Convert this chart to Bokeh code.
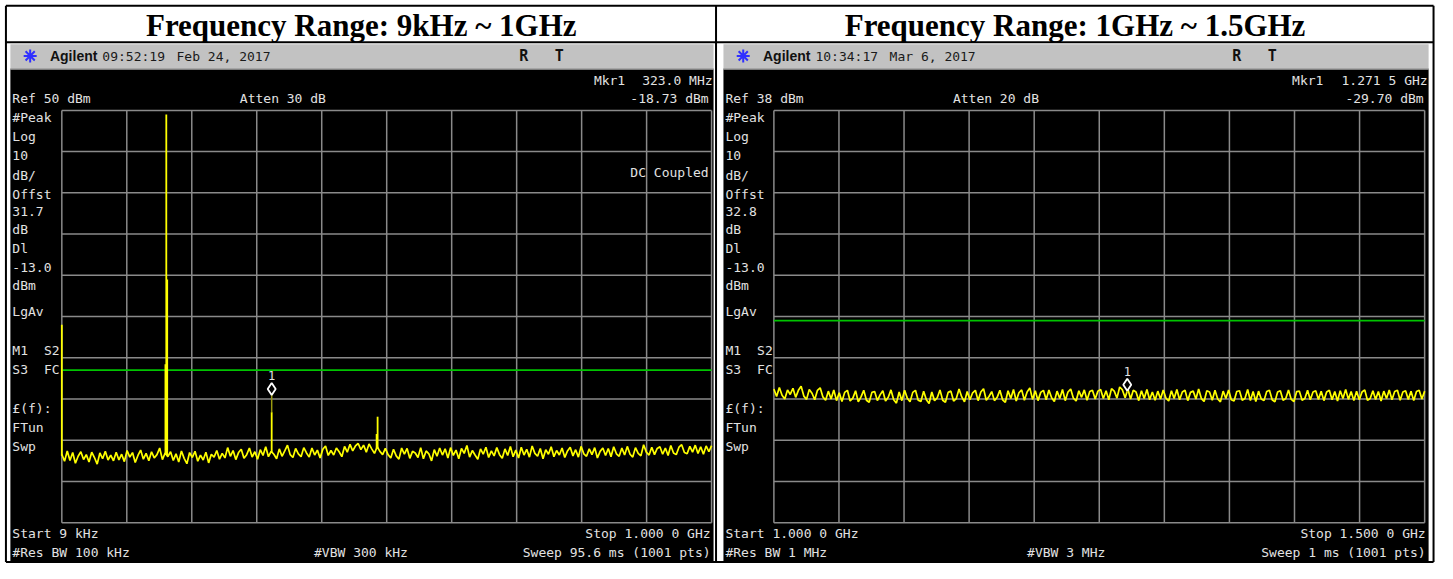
import numpy as np
from bokeh.plotting import figure
from bokeh.models import Range1d
from bokeh.core.properties import value
from bokeh.embed import file_html
from bokeh.resources import INLINE

# ---------------- data ----------------
titles = ["Frequency Range: 9kHz ~ 1GHz", "Frequency Range: 1GHz ~ 1.5GHz"]
start_mhz = [0.009, 1000.0]
stop_mhz = [1000.0, 1500.0]
ref_dbm = [50.0, 38.0]
db_per_div = 10.0
display_line_dbm = [-13.0, -13.0]
marker_mhz = [323.0, 1271.5]
marker_dbm = [-18.73, -29.70]
marker_stem_to = [-23.2, -30.4]

left_noise = [
    -33.4, -35.1, -32.6, -34.9, -33.0, -35.6, -33.9, -32.8, -34.7, -33.5, -35.3, -32.9, -34.2, -35.8, -33.1, -34.5, -32.7, -34.8, -33.6, -35.0,
    -32.9, -34.8, -33.4, -35.2, -32.5, -34.1, -33.0, -35.4, -33.7, -32.4, -34.6, -33.2, -35.0, -32.8, -34.3, -33.5, -31.9, -34.7, -33.1, -34.0,
    -32.8, -34.9, -33.3, -35.3, -32.6, -34.4, -35.7, -33.0, -34.2, -32.7, -35.1, -33.6, -34.8, -32.9, -35.5, -33.4, -34.1, -32.5, -34.6, -33.2,
    -34.3, -31.8, -33.9, -32.5, -34.7, -33.0, -32.2, -34.4, -33.5, -31.9, -34.1, -32.8, -34.6, -32.3, -33.7, -31.6, -34.0, -32.7, -33.4, -34.5,
    -32.1, -33.9, -32.6, -31.2, -33.5, -34.2, -32.0, -33.3, -34.0, -31.8, -33.1, -34.1, -31.9, -33.6, -32.4, -34.3, -32.2, -31.4, -33.7, -32.5,
    -33.6, -31.9, -32.8, -34.0, -31.5, -32.9, -31.0, -32.6, -31.4, -30.8, -32.3, -31.2, -32.9, -30.9, -32.1, -33.2, -31.6, -32.7, -33.5, -32.0,
    -33.5, -34.3, -32.2, -33.8, -34.6, -31.9, -33.4, -32.0, -34.4, -32.7, -33.1, -34.2, -31.8, -34.5, -32.6, -33.3, -35.0, -32.3, -33.9, -31.9,
    -33.6, -32.1, -34.3, -31.8, -33.7, -32.4, -34.5, -32.0, -33.2, -31.3, -34.1, -32.5, -33.6, -34.6, -32.1, -33.4, -31.7, -34.2, -32.6, -33.8,
    -31.8, -33.5, -34.4, -32.1, -33.7, -31.5, -34.0, -32.4, -34.3, -31.7, -33.6, -32.2, -34.1, -31.4, -33.2, -33.9, -32.0, -34.5, -32.3, -33.4,
    -31.6, -34.0, -32.5, -33.6, -31.9, -34.2, -32.6, -31.7, -33.8, -32.3, -34.1, -31.5, -33.3, -33.9, -32.1, -33.5, -31.8, -34.3, -32.7, -31.9,
    -33.7, -32.0, -34.0, -31.6, -33.3, -33.9, -31.9, -33.6, -31.5, -33.4, -34.1, -31.8, -33.2, -33.8, -31.1, -32.9, -33.6, -31.7, -33.5, -32.0,
    -31.6, -33.4, -31.9, -33.7, -31.3, -33.1, -33.5, -31.7, -31.1, -33.0, -33.3, -31.5, -32.9, -31.2, -33.2, -31.6, -33.4, -31.4, -32.8, -31.3,
]

right_noise = [
    -29.6, -31.4, -29.2, -31.1, -32.0, -29.8, -30.9, -29.4, -31.6, -29.9, -28.9, -31.3, -32.1, -29.7, -30.6, -32.2, -29.9, -29.3, -31.5, -32.3,
    -30.1, -32.0, -29.8, -32.4, -30.5, -32.6, -30.4, -29.9, -32.5, -31.8, -30.0, -32.7, -31.5, -29.9, -32.3, -32.8, -30.4, -30.2, -32.4, -31.0,
    -30.0, -32.5, -31.6, -29.8, -32.2, -33.0, -30.3, -32.4, -29.9, -31.8, -32.7, -30.4, -29.9, -32.3, -32.6, -30.1, -32.2, -33.1, -30.3, -32.4,
    -31.7, -29.8, -32.3, -32.8, -30.4, -30.1, -32.5, -31.9, -29.6, -31.5, -32.7, -30.2, -32.2, -30.5, -29.9, -32.4, -30.3, -29.5, -32.3, -31.4,
    -30.2, -32.4, -31.6, -29.9, -32.2, -32.8, -30.0, -31.9, -29.7, -32.5, -30.5, -29.8, -32.3, -30.3, -29.3, -32.1, -30.0, -32.4, -30.4, -29.9,
    -32.2, -29.8, -31.7, -32.6, -30.1, -31.9, -29.7, -32.4, -30.3, -29.6, -31.8, -32.5, -30.0, -31.6, -29.8, -32.3, -30.2, -29.9, -32.0, -30.1,
    -29.7, -31.9, -30.0, -32.2, -29.5, -30.1, -31.8, -29.1, -29.8, -31.7, -29.6, -32.0, -29.9, -30.3, -32.4, -30.0, -31.9, -29.7, -32.2, -30.3,
    -32.3, -30.1, -32.0, -29.8, -31.8, -32.5, -30.0, -31.9, -29.7, -32.2, -30.3, -29.9, -32.4, -30.4, -30.1, -32.0, -29.6, -31.9, -32.6, -30.0,
    -30.3, -32.3, -29.9, -32.0, -32.7, -30.1, -31.9, -29.8, -32.2, -32.5, -30.2, -30.0, -32.3, -31.9, -29.7, -32.4, -30.2, -32.6, -30.1, -32.0,
    -32.4, -30.2, -29.9, -32.2, -32.7, -30.3, -30.0, -32.3, -31.9, -29.8, -32.1, -32.6, -30.2, -30.1, -32.3, -31.9, -29.9, -32.2, -30.3, -30.0,
    -32.1, -30.1, -32.4, -30.3, -29.9, -32.2, -30.2, -32.5, -30.0, -31.9, -29.7, -32.1, -30.2, -32.4, -30.1, -32.2, -30.3, -29.8, -32.3, -31.9,
    -30.0, -32.1, -30.2, -32.5, -30.1, -31.9, -29.8, -32.2, -30.2, -29.9, -32.3, -30.3, -30.0, -32.1, -30.1, -32.4, -30.2, -29.9, -32.0, -30.1,
]

left_spike_mhz = [0.009, 159.5, 160.8, 162.2, 323.0, 484.5, 486.0]
left_spike_top = [-2.0, -11.6, 49.0, 9.0, -23.2, -28.5, -24.3]
left_spike_floor = [-33.8, -33.6, -33.6, -33.6, -33.0, -32.0, -32.0]

header_time = ["09:52:19", "10:34:17"]
header_date = ["Feb 24, 2017", "Mar 6, 2017"]
mkr_label = ["Mkr1", "Mkr1"]
mkr_freq_text = ["323.0 MHz", "1.271 5 GHz"]
mkr_val_text = ["-18.73 dBm", "-29.70 dBm"]
ref_text = ["Ref 50 dBm", "Ref 38 dBm"]
atten_text = ["Atten 30 dB", "Atten 20 dB"]
side_labels = [
    ["#Peak", "Log", "10", "dB/", "Offst", "31.7", "dB", "Dl", "-13.0", "dBm",
     "LgAv", "M1", "S3", "£(f):", "FTun", "Swp"],
    ["#Peak", "Log", "10", "dB/", "Offst", "32.8", "dB", "Dl", "-13.0", "dBm",
     "LgAv", "M1", "S3", "£(f):", "FTun", "Swp"],
]
side_labels_2 = ["S2", "FC"]
coupling_text = ["DC Coupled", ""]
start_text = ["Start 9 kHz", "Start 1.000 0 GHz"]
stop_text = ["Stop 1.000 0 GHz", "Stop 1.500 0 GHz"]
rbw_text = ["#Res BW 100 kHz", "#Res BW 1 MHz"]
vbw_text = ["#VBW 300 kHz", "#VBW 3 MHz"]
sweep_text = ["Sweep 95.6 ms (1001 pts)", "Sweep 1 ms (1001 pts)"]

# ---------------- layout (reference pixel frame) ----------------
VIEW_X = (0.0, 1453.0)
VIEW_Y = (579.0, 0.0)
W, H = 1437, 563
cell_x0 = [5.5, 724.0]
cell_x1 = [724.0, 1449.0]
shot_x0 = [10.0, 731.0]
shot_x1 = [721.0, 1444.0]
grid_x0 = [62.0, 782.0]
grid_x1 = [719.0, 1440.0]
mkr_label_x = [600.0, 1306.0]
GRID_Y0, GRID_Y1 = 113.0, 537.0
side_y = [120, 140, 159, 180, 199, 217, 235, 255, 275, 293, 320, 360, 379, 420, 439, 459]
side2_y = [360, 379]

MONO = value("DejaVu Sans Mono")
TXT = "#e2e2e2"
YELLOW = "#ffff00"

p = figure(width=W, height=H, x_range=Range1d(*VIEW_X), y_range=Range1d(*VIEW_Y),
           output_backend="svg", toolbar_location=None, min_border=0,
           x_axis_location=None, y_axis_location=None)
p.grid.visible = False
p.outline_line_color = None
p.background_fill_color = "white"
p.border_fill_color = "white"

for i in range(2):
    # title
    p.text(x=[(cell_x0[i] + cell_x1[i]) / 2], y=[25.5], text=[titles[i]],
           text_font=value("Liberation Serif"), text_font_style="bold", text_font_size="31px",
           text_align="center", text_baseline="middle", text_color="black")
    # screenshot body
    p.quad(left=[shot_x0[i]], right=[shot_x1[i]], top=[45], bottom=[70],
           fill_color="#c2c2c2", line_color=None)
    p.quad(left=[shot_x0[i]], right=[shot_x1[i]], top=[70], bottom=[577],
           fill_color="black", line_color=None)
    p.segment(x0=[shot_x0[i]], x1=[shot_x1[i]], y0=[70.5], y1=[70.5], line_color="#e8e8e8", line_width=1)
    # header
    p.scatter(x=[shot_x0[i] + 20], y=[57], marker="asterisk", size=13, line_color="#3030ff", line_width=2)
    p.text(x=[shot_x0[i] + 40], y=[57.5], text=["Agilent"], text_font=value("Liberation Sans"),
           text_font_style="bold", text_font_size="14px", text_baseline="middle", text_color="#111111")
    p.text(x=[shot_x0[i] + 93, shot_x0[i] + 168], y=[57.5, 57.5], text=[header_time[i], header_date[i]],
           text_font=MONO, text_font_size="13px", text_baseline="middle", text_color="#1a1a1a")
    p.text(x=[shot_x0[i] + 519, shot_x0[i] + 555], y=[57.5, 57.5], text=["R", "T"], text_font=MONO,
           text_font_style="bold", text_font_size="15px", text_baseline="middle",
           text_align="center", text_color="#111111")

    # data ranges for this panel, mapped so the grid sits at its reference pixels
    fpp = (stop_mhz[i] - start_mhz[i]) / (grid_x1[i] - grid_x0[i])
    fr = Range1d(start_mhz[i] - (grid_x0[i] - VIEW_X[0]) * fpp,
                 stop_mhz[i] + (VIEW_X[1] - grid_x1[i]) * fpp)
    dpp = 10 * db_per_div / (GRID_Y1 - GRID_Y0)
    dr = Range1d(ref_dbm[i] - (VIEW_Y[0] - GRID_Y0) * dpp,
                 ref_dbm[i] + (GRID_Y0 - VIEW_Y[1]) * dpp)
    fx, dy = f"f{i}", f"d{i}"
    p.extra_x_ranges[fx] = fr
    p.extra_y_ranges[dy] = dr
    kw = dict(x_range_name=fx, y_range_name=dy)

    span = stop_mhz[i] - start_mhz[i]
    vx = [start_mhz[i] + k * span / 10 for k in range(11)]
    bottom = ref_dbm[i] - 10 * db_per_div
    p.segment(x0=vx, x1=vx, y0=[bottom] * 11, y1=[ref_dbm[i]] * 11,
              line_color="#8a8a8a", line_width=1.5, **kw)
    hy = [ref_dbm[i] - k * db_per_div for k in range(11)]
    p.segment(x0=[start_mhz[i]] * 11, x1=[stop_mhz[i]] * 11, y0=hy, y1=hy,
              line_color="#8a8a8a", line_width=1.5, **kw)

    # display line
    p.segment(x0=[start_mhz[i]], x1=[stop_mhz[i]], y0=[display_line_dbm[i]], y1=[display_line_dbm[i]],
              line_color="#00c400", line_width=1.6, **kw)

    # trace
    noise = left_noise if i == 0 else right_noise
    nx = np.linspace(start_mhz[i], stop_mhz[i], len(noise))
    p.line(nx, noise, line_color=YELLOW, line_width=1.7, **kw)
    if i == 0:
        p.segment(x0=left_spike_mhz, x1=left_spike_mhz, y0=left_spike_floor, y1=left_spike_top,
                  line_color=YELLOW, line_width=1.8, **kw)

    # marker
    p.segment(x0=[marker_mhz[i]], x1=[marker_mhz[i]], y0=[marker_stem_to[i]], y1=[marker_dbm[i]],
              line_color="#9a9a10", line_width=1.5, **kw)
    lift = 5 * dpp
    p.scatter(x=[marker_mhz[i]], y=[marker_dbm[i] + lift], marker="diamond", size=12,
              fill_color="black", line_color="white", line_width=1.8, **kw)
    p.text(x=[marker_mhz[i]], y=[marker_dbm[i] + lift], text=["1"], y_offset=-13,
           text_font=MONO, text_font_size="12px", text_align="center", text_baseline="middle",
           text_color=TXT, **kw)

    # instrument texts
    common = dict(text_font=MONO, text_font_size="13px", text_baseline="middle", text_color=TXT)
    p.text(x=[mkr_label_x[i]], y=[82], text=[mkr_label[i]], text_align="left", **common)
    p.text(x=[shot_x1[i] - 1], y=[82], text=[mkr_freq_text[i]], text_align="right", **common)
    p.text(x=[shot_x0[i] + 2], y=[101], text=[ref_text[i]], text_align="left", **common)
    p.text(x=[shot_x0[i] + 232], y=[101], text=[atten_text[i]], text_align="left", **common)
    p.text(x=[shot_x1[i] - 5], y=[101], text=[mkr_val_text[i]], text_align="right", **common)
    p.text(x=[shot_x0[i] + 2] * len(side_labels[i]), y=side_y, text=side_labels[i],
           text_align="left", **common)
    p.text(x=[shot_x0[i] + 34] * 2, y=side2_y, text=side_labels_2, text_align="left", **common)
    p.text(x=[shot_x1[i] - 5], y=[177], text=[coupling_text[i]], text_align="right", **common)
    p.text(x=[shot_x0[i] + 2], y=[548], text=[start_text[i]], text_align="left", **common)
    p.text(x=[shot_x1[i] - 3], y=[548], text=[stop_text[i]], text_align="right", **common)
    p.text(x=[shot_x0[i] + 2], y=[568], text=[rbw_text[i]], text_align="left", **common)
    p.text(x=[shot_x0[i] + 307], y=[568], text=[vbw_text[i]], text_align="left", **common)
    p.text(x=[shot_x1[i] - 3], y=[568], text=[sweep_text[i]], text_align="right", **common)

# table borders (drawn last so they sit on top)
p.segment(x0=[5.5, 5.5, 5.5], x1=[1449, 1449, 1449], y0=[5.5, 43, 577.5], y1=[5.5, 43, 577.5],
          line_color="black", line_width=2)
p.segment(x0=[5.5, 723.5, 1449], x1=[5.5, 723.5, 1449], y0=[5.5, 5.5, 5.5], y1=[577.5, 577.5, 577.5],
          line_color="black", line_width=2)

open("out.html", "w").write(file_html(p, INLINE))
